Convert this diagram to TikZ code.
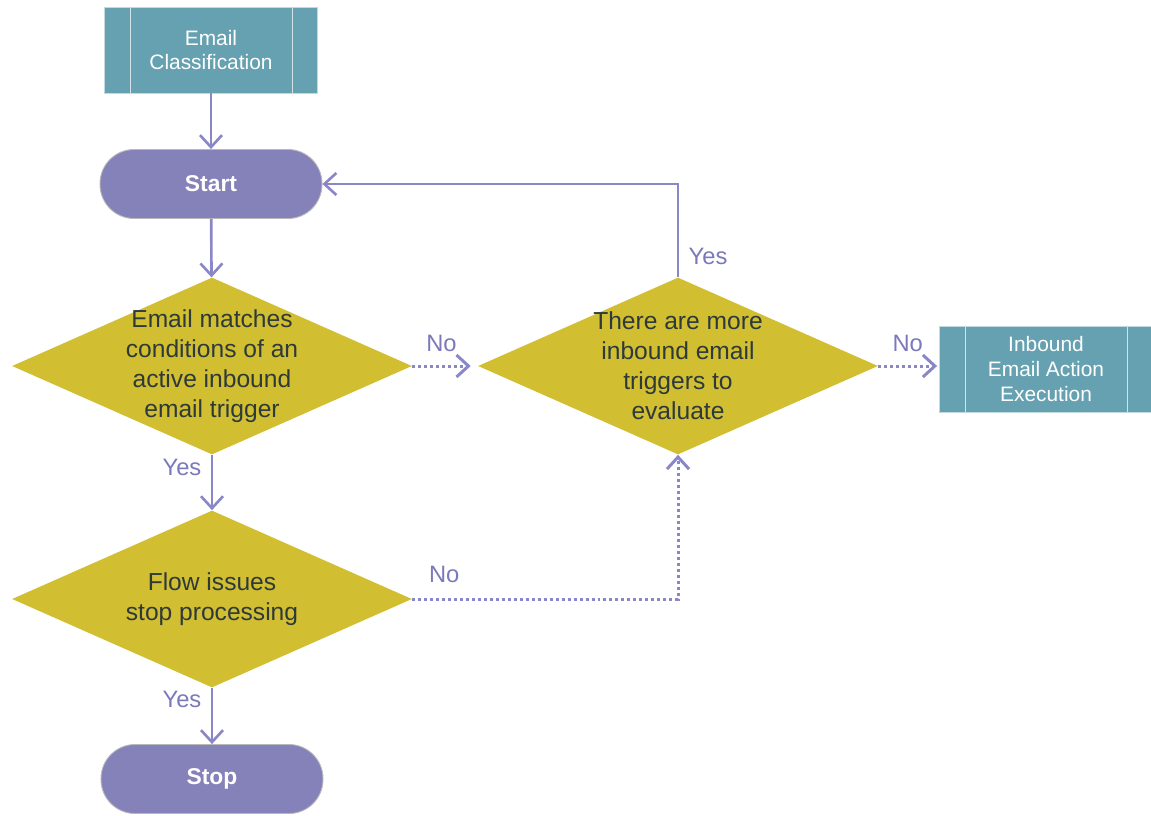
\documentclass[tikz,border=0pt]{standalone}
\usepackage{fontspec}
\setmainfont{Liberation Sans}
\usetikzlibrary{shapes.geometric, arrows.meta}
\definecolor{boxteal}{HTML}{65A1B0}
\definecolor{pillpurple}{HTML}{8582BA}
\definecolor{linepurple}{HTML}{8A87C8}
\definecolor{labelpurple}{HTML}{7A79BB}
\definecolor{diayellow}{HTML}{D1BE31}
\definecolor{darktext}{HTML}{2E3A3A}

\begin{document}
\begin{tikzpicture}[x=0.02cm, y=-0.02cm,
  >={Straight Barb[length=2.4mm,width=4.4mm]},
  flow/.style={draw=linepurple, line width=1.5pt},
  nolink/.style={flow, line width=1.7pt, dash pattern=on 1.7pt off 1.7pt},
  process/.style={rectangle, fill=boxteal, draw=white!60!boxteal, line width=0.5pt,
    minimum width=4.26cm, minimum height=1.72cm, text=white, align=center,
    font=\fontsize{11.9}{14.2}\selectfont,
    path picture={
      \draw[white!70!boxteal, line width=0.9pt]
        ([xshift=0.52cm]path picture bounding box.south west) -- ([xshift=0.52cm]path picture bounding box.north west)
        ([xshift=-0.5cm]path picture bounding box.south east) -- ([xshift=-0.5cm]path picture bounding box.north east);}},
  terminal/.style={rectangle, rounded corners=0.68cm, fill=pillpurple, draw=gray!55, line width=0.5pt,
    minimum width=4.44cm, minimum height=1.38cm, text=white,
    font=\bfseries\fontsize{13}{15}\selectfont},
  decision/.style={diamond, fill=diayellow, minimum width=8cm, minimum height=3.54cm, inner sep=0pt},
  decision text/.style={text=darktext, align=center, font=\fontsize{14}{17}\selectfont},
  answer/.style={text=labelpurple, font=\fontsize{13.5}{16}\selectfont}]
  \useasboundingbox (0,0) rectangle (1151,815);
  % boxes on the left column
  \node[process] (classify) at (211,50) {Email\\Classification};
  \node[terminal] (start) at (211,184) {Start};
  \node[decision, label={[decision text]center:{Email matches\\conditions of an\\active inbound\\email trigger}}] (match) at (212,366) {};
  \node[decision, label={[decision text]center:{Flow issues\\stop processing}}] (halt) at (212,599) {};
  \node[terminal] (stop) at (212,779) {Stop};
  % loop over the remaining triggers
  \node[decision, label={[decision text]center:{There are more\\inbound email\\triggers to\\evaluate}}] (more) at (678,366) {};
  \node[process] (action) at (1046,369) {Inbound\\Email Action\\Execution};
  % connectors
  \draw[flow,->] (classify) -- (start);
  \draw[flow,->] (start) -- (match);
  \draw[nolink,->] (match.east) -- node[answer, above=4pt] {No} ([xshift=-0.14cm]more.west);
  \draw[flow,->] (more.north) |- node[answer, right=2pt, pos=0.11] {Yes} (start.east);
  \draw[nolink,->] (more.east) -- node[answer, above=4pt] {No} ([xshift=-0.04cm]more.east -| action.west);
  \draw[flow,->] (match.south) -- node[answer, left=2pt, pos=0.22] {Yes} (halt.north);
  \draw[nolink,->] (halt.east) -| node[answer, above=5pt, pos=0.06] {No} (more.south);
  \draw[flow,->] (halt.south) -- node[answer, left=2pt, pos=0.21] {Yes} (stop.north);
\end{tikzpicture}
\end{document}
